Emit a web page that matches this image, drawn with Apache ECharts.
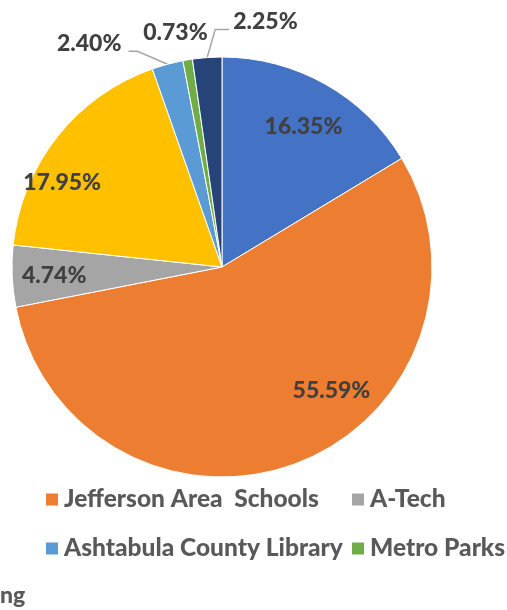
<!DOCTYPE html>
<html>
<head>
<meta charset="utf-8">
<script src="https://cdn.jsdelivr.net/npm/echarts@6/dist/echarts.min.js"></script>
<style>
  html, body { margin: 0; padding: 0; background: #fff; }
  #chart { width: 507px; height: 610px; }
</style>
</head>
<body>
<div id="chart"></div>
<script>
// Share of the levy by taxing body, in percent, clockwise from 12 o'clock
const sliceNames = ['Township', 'Jefferson Area  Schools', 'A-Tech', 'Village',
                    'Ashtabula County Library', 'Metro Parks', 'Other'];
const shares = [16.35, 55.59, 4.74, 17.95, 2.40, 0.73, 2.25];
const sliceColors = ['#4472C4', '#ED7D31', '#A5A5A5', '#FFC000', '#5B9BD5', '#70AD47', '#264478'];

// Legend entries, laid out in two aligned columns
const legendRows = [
  ['Jefferson Area  Schools', 'A-Tech'],
  ['Ashtabula County Library', 'Metro Parks']
];

// Small slices get their labels outside the pie
const outsideLabels = [4, 5, 6];
// Nudges applied to the computed label positions
const labelNudge = [[-1, 6], [49, -33], [0, 1], [-28, 20], [0, 0], [38, -9], [0, 0]];
// Elbow leaders for outside labels: [bend dx, bend dy, run], drawn from the slice edge
const leaders = { 4: [-30, -13, -9], 6: [8, -28, 14] };

const CX = 222, CY = 267, R = 210;
const labelFont = { fontFamily: 'Lato', fontWeight: 900, fontSize: 23, color: '#404040' };

const chart = echarts.init(document.getElementById('chart'), null, { renderer: 'canvas' });

const pieData = shares.map((v, i) => ({
  name: sliceNames[i], value: v, itemStyle: { color: sliceColors[i] }
}));

const labelData = shares.map((v, i) => {
  const outside = outsideLabels.includes(i);
  return {
    name: sliceNames[i],
    value: v,
    label: { position: outside ? 'outside' : 'inside' },
    labelLine: { show: !!leaders[i] }
  };
});

function placeLabel(p) {
  const lead = leaders[p.dataIndex];
  if (lead && p.labelLinePoints) {
    const [x0, y0] = p.labelLinePoints[0];
    const bend = [x0 + lead[0], y0 + lead[1]];
    const end = [bend[0] + lead[2], bend[1]];
    const toRight = lead[2] > 0;
    return {
      x: end[0] + (toRight ? 4 : -7),
      y: end[1] - 8,
      align: toRight ? 'left' : 'right',
      verticalAlign: 'middle',
      labelLinePoints: [[x0, y0], bend, end]
    };
  }
  const n = labelNudge[p.dataIndex];
  return { dx: n[0], dy: n[1] };
}

const legends = [];
const colX = [39, 345];
legendRows.forEach((row, r) => {
  row.forEach((name, c) => {
    legends.push({
      data: [name],
      left: colX[c],
      top: 482 + r * 49,
      itemWidth: 14,
      itemHeight: 14,
      itemGap: 0,
      icon: 'rect',
      selectedMode: false,
      textStyle: { fontFamily: 'Lato', fontWeight: 900, fontSize: 24.5, color: '#595959' }
    });
  });
});

chart.setOption({
  animation: false,
  legend: legends,
  graphic: [{
    type: 'text',
    left: 0,
    top: 584,
    style: { text: 'ng', fontFamily: 'Lato', fontWeight: 900, fontSize: 23, fill: '#595959' }
  }],
  series: [
    {
      type: 'pie',
      center: [CX, CY],
      radius: R,
      startAngle: 90,
      clockwise: true,
      silent: true,
      label: { show: false },
      labelLine: { show: false },
      itemStyle: { borderColor: '#fff', borderWidth: 1 },
      data: pieData
    },
    {
      type: 'pie',
      center: [CX, CY],
      radius: [120, R],
      startAngle: 90,
      clockwise: true,
      silent: true,
      legendHoverLink: false,
      itemStyle: { color: 'rgba(0,0,0,0)' },
      label: Object.assign({ show: true, formatter: p => p.value.toFixed(2) + '%' }, labelFont),
      labelLine: { show: true, length: 18, length2: 10, lineStyle: { color: '#A6A6A6', width: 1.5 } },
      avoidLabelOverlap: false,
      labelLayout: placeLabel,
      data: labelData
    }
  ]
});
</script>
</body>
</html>
